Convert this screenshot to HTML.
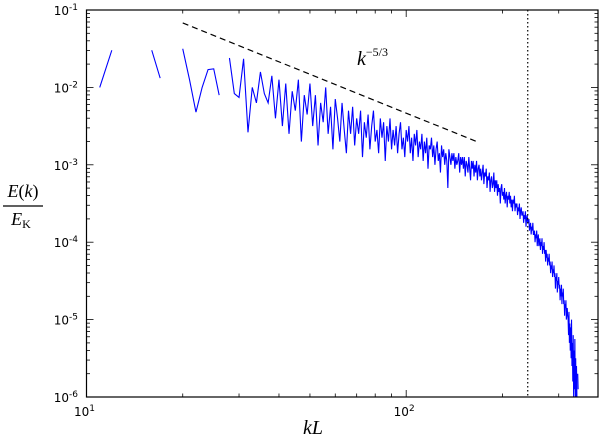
<!DOCTYPE html>
<html><head><meta charset="utf-8"><style>
html,body{margin:0;padding:0;background:#fff;}
svg{display:block;}
text{font-family:"DejaVu Sans","Liberation Sans",sans-serif;}
.serif{font-family:"Liberation Serif","DejaVu Serif",serif;font-style:italic;}
</style></head><body>
<svg id="chart" width="600" height="439" xmlns="http://www.w3.org/2000/svg"></svg>
<script>
// Data: k starts at 11, log10 E(k)/E_K values (null = gap)
const kStart = 11;
const logE = [
-2.0,-1.52,null,null,null,-1.52,-1.88,null,null,-1.5,
-1.9,-2.32,-2.0,-1.77,-1.76,-2.1,null,-1.62,-2.08,-2.13,
-1.63,-2.58,-2.0,-2.2,-1.8,-2.08,-2.2,-1.85,-2.4,-1.9,
-2.5,-1.95,-2.6,-2.05,-2.3,-1.9,-2.7,-2.1,-2.35,-1.95,
-2.5,-2.1,-2.75,-2.2,-2.45,-2.0,-2.6,-2.25,-2.8,-2.15,
-2.4,-2.7,-2.2,-2.55,-2.85,-2.3,-2.6,-2.25,-2.75,-2.4,
-2.6,-2.3,-2.9,-2.45,-2.65,-2.35,-2.8,-2.5,-2.3,-2.7,
-2.55,-2.85,-2.4,-2.65,-2.45,-2.95,-2.5,-2.7,-2.4,-2.8,
-2.55,-2.75,-2.5,-2.85,-2.6,-2.45,-2.8,-2.65,-2.9,-2.55,
-2.7,-2.5,-2.85,-2.65,-2.95,-2.6,-2.75,-2.55,-2.9,-2.7,
-2.8,-2.6,-2.95,-2.7,-2.85,-2.65,-3.05,-2.75,-2.8,-2.65,
-2.9,-2.75,-3.0,-2.8,-2.7,-2.95,-2.85,-3.1,-2.75,-2.9,
-2.8,-3.0,-2.85,-2.95,-3.3,-2.8,-2.9,-3.0,-2.85,-2.95,
-2.85,-3.05,-2.9,-3.0,-2.95,-2.85,-3.1,-2.9,-3.0,-2.9,
-3.05,-2.9,-3.15,-2.95,-3.0,-3.1,-2.9,-3.05,-3.2,-2.95,
-3.05,-2.95,-3.15,-3.0,-3.1,-2.95,-3.2,-3.05,-3.0,-3.15,
-3.05,-3.2,-3.1,-3.0,-3.25,-3.1,-3.15,-3.05,-3.3,-3.15,
-3.2,-3.1,-3.35,-3.2,-3.15,-3.3,-3.25,-3.1,-3.35,-3.2,
-3.3,-3.2,-3.4,-3.25,-3.35,-3.3,-3.5,-3.3,-3.25,-3.4,
-3.35,-3.45,-3.3,-3.5,-3.4,-3.35,-3.55,-3.4,-3.45,-3.35,
-3.5,-3.4,-3.55,-3.45,-3.6,-3.45,-3.5,-3.4,-3.6,-3.5,
-3.55,-3.5,-3.65,-3.55,-3.6,-3.5,-3.7,-3.6,-3.55,-3.65,
-3.65,-3.6,-3.75,-3.65,-3.7,-3.6,-3.8,-3.7,-3.65,-3.75,
-3.75,-3.7,-3.85,-3.8,-3.75,-3.9,-3.8,-3.85,-3.75,-3.9,
-3.9,-3.85,-4.0,-3.9,-3.95,-3.85,-4.05,-3.95,-3.9,-4.05,
-4.0,-3.95,-4.1,-4.0,-4.05,-3.95,-4.15,-4.05,-4.1,-4.0,
-4.15,-4.1,-4.25,-4.1,-4.2,-4.15,-4.3,-4.2,-4.25,-4.15,
-4.3,-4.25,-4.4,-4.3,-4.35,-4.25,-4.45,-4.35,-4.4,-4.3,
-4.45,-4.4,-4.6,-4.45,-4.5,-4.4,-4.65,-4.5,-4.55,-4.45,
-4.6,-4.55,-4.75,-4.6,-4.7,-4.55,-4.8,-4.65,-4.7,-4.6,
-4.8,-4.75,-4.95,-4.8,-4.85,-4.75,-5.0,-4.9,-4.85,-4.95,
-5.0,-5.2,-4.9,-5.3,-5.05,-5.4,-5.1,-5.5,-5.0,-5.6,
-5.3,-5.8,-5.2,-6.0,-5.4,-5.9,-5.25,-6.0,-5.5,-6.0,
-5.6,-6.0,null,-5.7,-5.9
];
const refK = [20, 165];          // k^-5/3 reference line endpoints
const refE0 = 0.068;             // value at refK[0]
const dottedK = 240;             // vertical dotted line
const xTickDecades = [1, 2];
const yTickDecades = [-1, -2, -3, -4, -5, -6];

const L = 86.5, R = 598, T = 10, B = 397;
const xMin = 1, xMax = 2.6, yMin = -6, yMax = -1;
const xs = lk => L + (lk - xMin) / (xMax - xMin) * (R - L);
const ys = le => B - (le - yMin) / (yMax - yMin) * (B - T);
const NS = "http://www.w3.org/2000/svg";
const svg = document.getElementById('chart');
function mk(tag, attrs, parent) {
  const e = document.createElementNS(NS, tag);
  for (const k in attrs) e.setAttribute(k, attrs[k]);
  (parent || svg).appendChild(e);
  return e;
}
const defs = mk('defs', {});
const cp = mk('clipPath', {id: 'clip'}, defs);
mk('rect', {x: L, y: T, width: R - L, height: B - T}, cp);

let d = '', pen = false;
logE.forEach((v, i) => {
  if (v === null) { pen = false; return; }
  const x = xs(Math.log10(kStart + i)), y = ys(v);
  d += (pen ? 'L' : 'M') + x.toFixed(2) + ' ' + y.toFixed(2);
  pen = true;
});
const series = mk('path', {d: d, fill: 'none', stroke: '#0000ff', 'stroke-width': 1.1, 'clip-path': 'url(#clip)'});



const refE1 = refE0 * Math.pow(refK[1] / refK[0], -5 / 3);
const ref = mk('line', {x1: xs(Math.log10(refK[0])), y1: ys(Math.log10(refE0)), x2: xs(Math.log10(refK[1])), y2: ys(Math.log10(refE1)), stroke: '#000', 'stroke-width': 1.2, 'stroke-dasharray': '6,4'});



const dv = mk('line', {x1: xs(Math.log10(dottedK)), y1: T, x2: xs(Math.log10(dottedK)), y2: B, stroke: '#000', 'stroke-width': 1.2, 'stroke-dasharray': '1.5,2.5'});



const tg = mk('g', {stroke: '#000', 'stroke-width': 0.8});


for (let dec = 1; dec <= 2; dec++) {
  for (let m = 1; m <= 9; m++) {
    const lk = dec + Math.log10(m);
    if (lk > xMax) continue;
    const x = xs(lk), len = m === 1 ? 7 : 3.5;
    mk('line', {x1: x, y1: B, x2: x, y2: B - len}, tg);
    mk('line', {x1: x, y1: T, x2: x, y2: T + len}, tg);
  }
}
for (let dec = -6; dec <= -1; dec++) {
  for (let m = 1; m <= 9; m++) {
    const le = dec + Math.log10(m);
    if (le > yMax) continue;
    const y = ys(le), len = m === 1 ? 7 : 3.5;
    mk('line', {x1: L, y1: y, x2: L + len, y2: y}, tg);
    mk('line', {x1: R, y1: y, x2: R - len, y2: y}, tg);
  }
}
const fr = mk('rect', {x: L, y: T, width: R - L, height: B - T, fill: 'none', stroke: '#000', 'stroke-width': 1.2});



xTickDecades.forEach(dec => {
  const t = mk('text', {x: xs(dec) - 2, y: 416, 'text-anchor': 'middle', 'font-size': 12});
  
  
  t.innerHTML = '10<tspan dy="-5" font-size="9">' + dec + '</tspan>';
});
yTickDecades.forEach(dec => {
  const t = mk('text', {x: 78, y: ys(dec) + 5, 'text-anchor': 'end', 'font-size': 12});
  
  
  t.innerHTML = '10<tspan dy="-5" font-size="9">' + dec + '</tspan>';
});
</script>
<svg style="position:absolute;left:0;top:0" width="600" height="439">
  <text class="serif" x="357" y="65" font-size="20">k<tspan dy="-9" font-size="12" font-style="normal">−5/3</tspan></text>
  <text class="serif" x="303" y="434" font-size="20">kL</text>
  <g>
    <text class="serif" x="23" y="197" font-size="18" text-anchor="middle">E<tspan font-style="normal">(</tspan>k<tspan font-style="normal">)</tspan></text>
    <line x1="3" y1="206" x2="43" y2="206" stroke="#000" stroke-width="1.2"/>
    <text class="serif" x="21" y="225" font-size="18" text-anchor="middle">E<tspan font-style="normal" font-size="12" dy="3">K</tspan></text>
  </g>
</svg>
</body></html>
